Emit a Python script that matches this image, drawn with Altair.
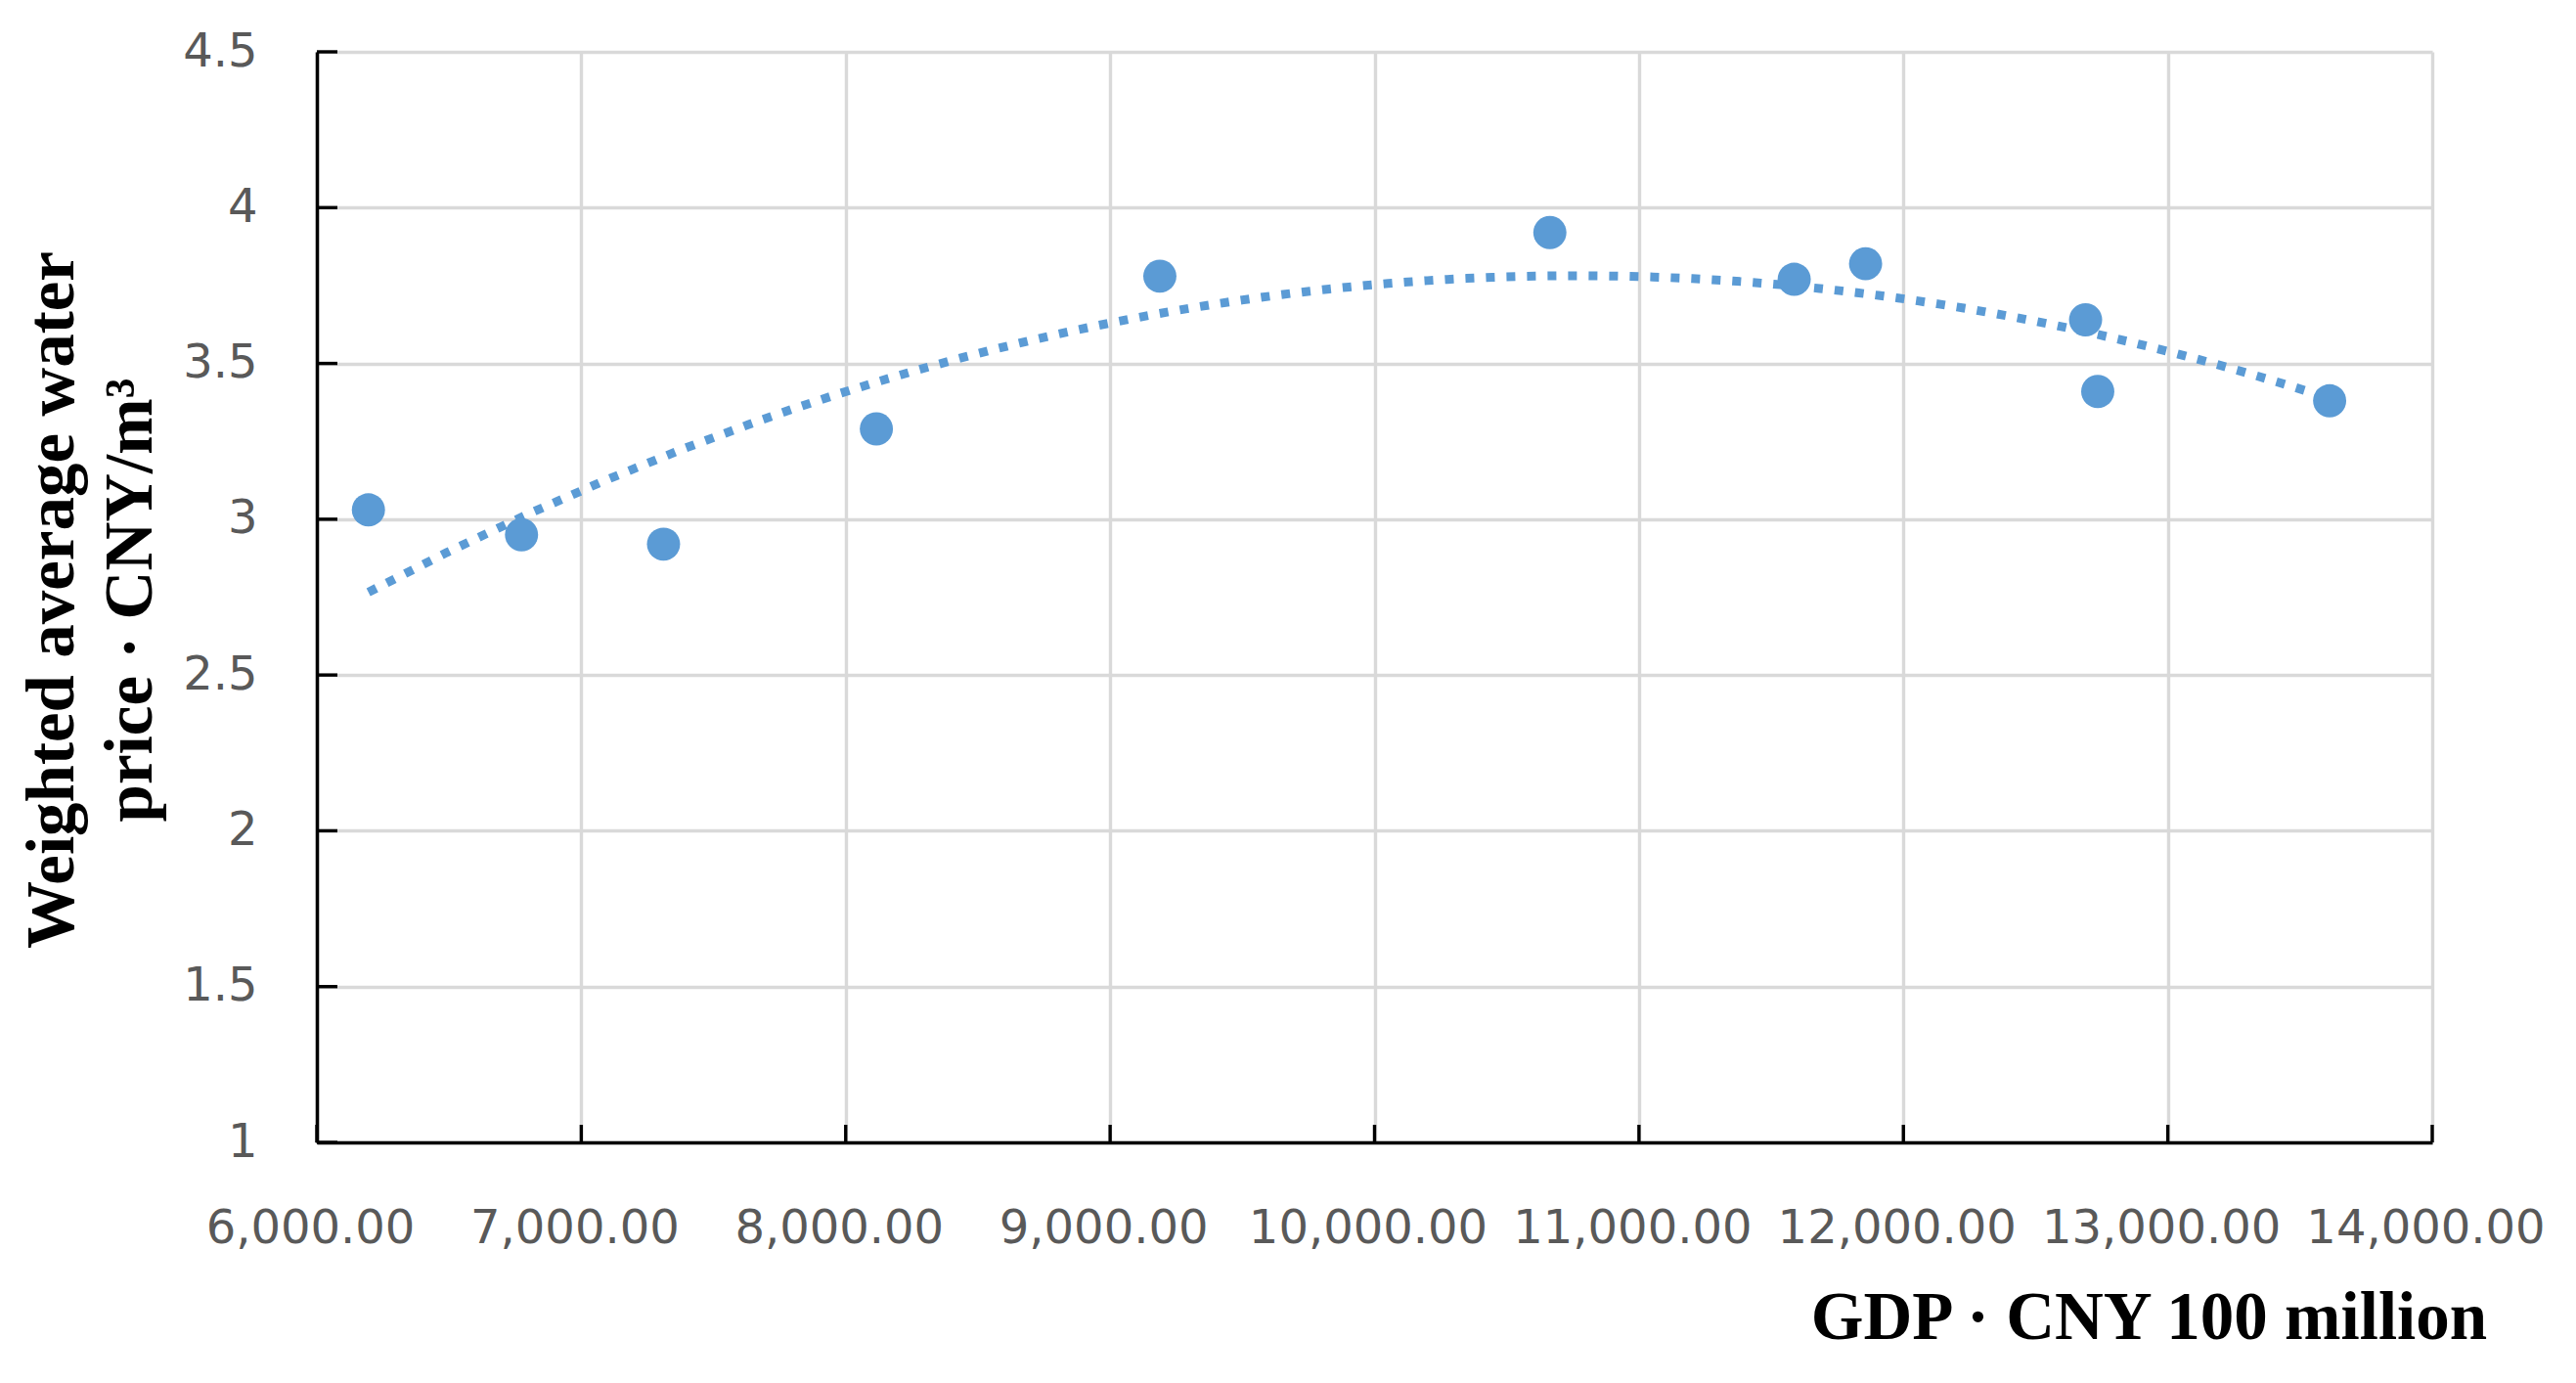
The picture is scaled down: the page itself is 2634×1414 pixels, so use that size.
import altair as alt
import pandas as pd

# Data
gdp = [6195, 6774, 7311, 8116, 9188, 10663, 11587, 11857, 12689, 12735, 13612]
price = [3.03, 2.95, 2.92, 3.29, 3.78, 3.92, 3.77, 3.82, 3.64, 3.41, 3.38]

x_ticks = [6000, 7000, 8000, 9000, 10000, 11000, 12000, 13000, 14000]
y_ticks = [1, 1.5, 2, 2.5, 3, 3.5, 4, 4.5]

x_title = "GDP · CNY 100 million"
y_title = ["Weighted average water", "price · CNY/m³"]

BLUE = "#5B9BD5"

df = pd.DataFrame({"gdp": gdp, "price": price})
xt = pd.DataFrame({"v": x_ticks})
yt = pd.DataFrame({"v": y_ticks})

xs = alt.Scale(domain=[x_ticks[0], x_ticks[-1]], nice=False, zero=False)
ys = alt.Scale(domain=[y_ticks[0], y_ticks[-1]], nice=False, zero=False)

x_axis = alt.Axis(
    values=x_ticks, format=",.2f",
    labelFont="DejaVu Sans", labelFontSize=48, labelColor="#595959",
    labelPadding=64, labelOffset=-7, labelFlush=False, labelOverlap=False,
    labelLimit=0,
    ticks=False, domainColor="black", domainWidth=3.5,
    grid=True, gridColor="#d9d9d9", gridWidth=3.4, gridOpacity=1,
    title=x_title, titleFont="Liberation Serif", titleFontSize=69,
    titleFontWeight="bold", titleColor="black", titleLimit=0,
    titleX=1873, titleY=200, titleAlign="center", titleBaseline="alphabetic",
)

y_axis = alt.Axis(
    values=y_ticks, format="~g",
    labelFont="DejaVu Sans", labelFontSize=48, labelColor="#595959",
    labelPadding=61, labelFlush=False, labelOverlap=False, labelBaseline="middle",
    labelLimit=0,
    ticks=False, domainColor="black", domainWidth=3.5,
    grid=True, gridColor="#d9d9d9", gridWidth=3.4, gridOpacity=1,
    title=y_title, titleFont="Liberation Serif", titleFontSize=69,
    titleFontWeight="bold", titleColor="black", titleAngle=270, titleLimit=0,
    titleX=-250, titleY=560, titleAlign="center", titleBaseline="alphabetic",
    titleLineHeight=80,
)

base = alt.Chart(df)

trend = base.transform_regression(
    "gdp", "price", method="poly", order=2
).mark_line(
    color=BLUE, strokeWidth=9, strokeDash=[9, 12], strokeCap="butt"
).encode(
    x=alt.X("gdp:Q", scale=xs, axis=x_axis),
    y=alt.Y("price:Q", scale=ys, axis=y_axis),
)

points = base.mark_circle(size=1150, color=BLUE, opacity=1).encode(
    x=alt.X("gdp:Q", scale=xs, axis=x_axis),
    y=alt.Y("price:Q", scale=ys, axis=y_axis),
)

yticks_layer = alt.Chart(yt).mark_tick(
    orient="horizontal", size=21, thickness=3.4, color="black",
    opacity=1, xOffset=10.5
).encode(
    y=alt.Y("v:Q", scale=ys, axis=y_axis),
    x=alt.datum(x_ticks[0], scale=xs, axis=x_axis),
)

xticks_layer = alt.Chart(xt).mark_tick(
    orient="vertical", size=18, thickness=3.4, color="black",
    opacity=1, yOffset=-9
).encode(
    x=alt.X("v:Q", scale=xs, axis=x_axis),
    y=alt.datum(y_ticks[0], scale=ys, axis=y_axis),
)

chart = alt.layer(trend, points, yticks_layer, xticks_layer).properties(
    width=2163,
    height=1115,
    autosize=alt.AutoSizeParams(type="none"),
    padding={"left": 316, "top": 45, "right": 120, "bottom": 220},
    background="white",
).configure_view(stroke=None)

chart.save("out.html", embed_options={"renderer": "svg", "actions": False})
